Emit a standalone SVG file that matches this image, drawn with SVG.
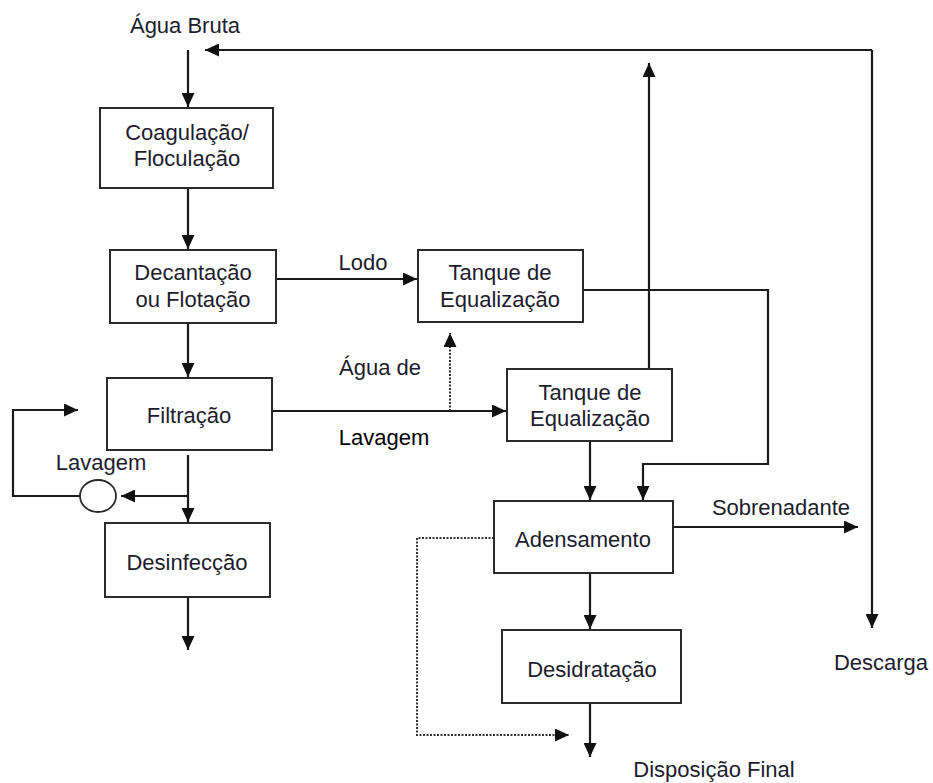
<svg xmlns="http://www.w3.org/2000/svg" width="933" height="783" viewBox="0 0 933 783">
<defs>
<marker id="ah" markerUnits="userSpaceOnUse" markerWidth="14" markerHeight="13" refX="14" refY="6.5" orient="auto">
<path d="M0,0 L14,6.5 L0,13 z" fill="#111"/>
</marker>
<style>
.box{fill:#fff;stroke:#2a2a2a;stroke-width:2}
.t{font-family:"Liberation Sans",Arial,sans-serif;font-size:22px;fill:#1c1c2c;text-anchor:middle}
.c{fill:none;stroke:#1a1a1a;stroke-width:2.2}
.a{marker-end:url(#ah)}
.d{fill:none;stroke:#333;stroke-width:2;stroke-dasharray:2 1.5}
</style>
</defs>
<rect width="933" height="783" fill="#fff"/>
<g id="connectors">
<path class="c a" d="M188,50 V107"/>
<path class="c a" d="M872,50 H205"/>
<path class="c a" d="M872,50 V628"/>
<path class="c a" d="M649,369 V63"/>
<path class="c a" d="M188,188 V249"/>
<path class="c a" d="M276,279 H417"/>
<path class="c a" d="M188,323 V377"/>
<path class="c a" d="M272,411 H506"/>
<path class="d a" d="M450,411 V333"/>
<path class="c a" d="M583,290 H768 V464 H643 V500"/>
<path class="c a" d="M590,441 V500"/>
<path class="c a" d="M188,455 V522"/>
<path class="c a" d="M188,496 H121"/>
<path class="c a" d="M80,496 H13 V410 H78"/>
<path class="c a" d="M188,597 V650"/>
<path class="c a" d="M673,527 H858"/>
<path class="c a" d="M590,573 V629"/>
<path class="c a" d="M590,703 V757"/>
<path class="d a" d="M494,538 H417 V735 H569"/>
</g>
<g id="pump"><ellipse cx="98" cy="496" rx="18" ry="16" fill="none" stroke="#2a2a2a" stroke-width="1.8"/></g>
<g id="agua-bruta"><text class="t" x="185" y="33">Água Bruta</text></g>
<g id="coagulacao"><rect class="box" x="100" y="108" width="173" height="80"/>
<text class="t" x="187" y="140">Coagulação/</text><text class="t" x="187" y="166">Floculação</text></g>
<g id="decantacao"><rect class="box" x="110" y="250" width="166" height="73"/>
<text class="t" x="193" y="280">Decantação</text><text class="t" x="193" y="307">ou Flotação</text></g>
<g id="tanque1"><rect class="box" x="418" y="250" width="165" height="72"/>
<text class="t" x="500" y="280">Tanque de</text><text class="t" x="500" y="307">Equalização</text></g>
<g id="filtracao"><rect class="box" x="107" y="378" width="165" height="72"/>
<text class="t" x="189" y="423">Filtração</text></g>
<g id="desinfeccao"><rect class="box" x="105" y="523" width="165" height="74"/>
<text class="t" x="187" y="570">Desinfecção</text></g>
<g id="tanque2"><rect class="box" x="507" y="369" width="165" height="72"/>
<text class="t" x="590" y="400">Tanque de</text><text class="t" x="590" y="426">Equalização</text></g>
<g id="adensamento"><rect class="box" x="494" y="501" width="179" height="72"/>
<text class="t" x="583" y="547">Adensamento</text></g>
<g id="desidratacao"><rect class="box" x="502" y="630" width="179" height="73"/>
<text class="t" x="592" y="677">Desidratação</text></g>
<g id="labels">
<text class="t" x="363" y="270">Lodo</text>
<text class="t" x="380" y="375">Água de</text>
<text class="t" x="384" y="445" style="fill:#000">Lavagem</text>
<text class="t" x="101" y="470">Lavagem</text>
<text class="t" x="781" y="515">Sobrenadante</text>
<text class="t" x="881" y="670">Descarga</text>
<text class="t" x="714" y="777">Disposição Final</text>
</g>
</svg>
